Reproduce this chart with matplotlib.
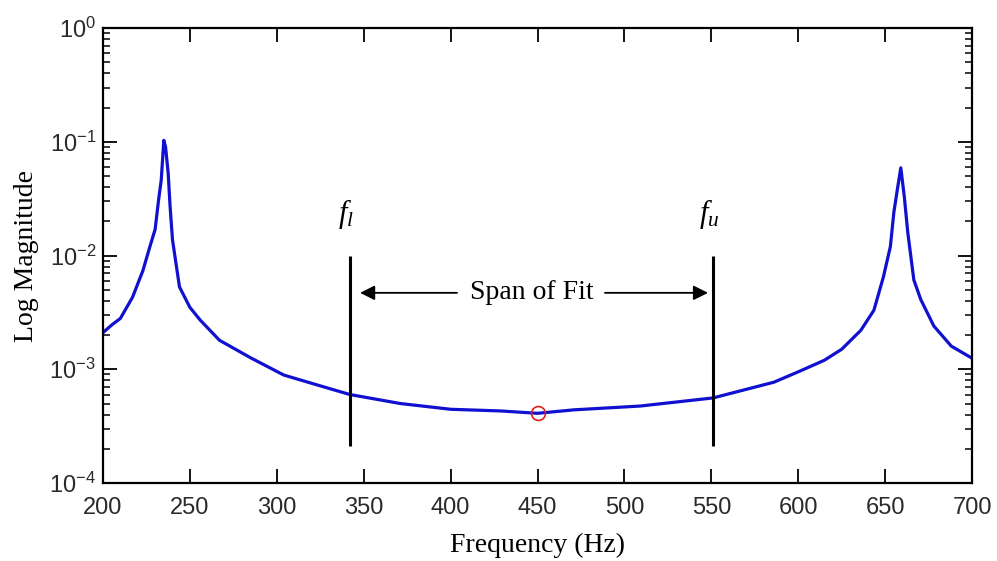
import matplotlib
matplotlib.use('Agg')
import matplotlib.pyplot as plt

# frequency response (Hz, magnitude)
freq = [200, 205, 210, 217, 223, 227, 230, 232, 233.5, 235, 236, 237.5, 238.6,
        240, 244, 250, 256, 267, 285, 304, 323, 342, 371, 400, 429, 450, 471,
        509, 551, 586, 600, 615, 625, 636, 643.5, 649, 653, 655, 657, 659,
        661, 663, 666.5, 670.5, 678, 688, 700]
mag = [2.1e-3, 2.45e-3, 2.8e-3, 4.3e-3, 7.4e-3, 1.2e-2, 1.7e-2, 3.1e-2, 4.6e-2,
       1.03e-1, 9.0e-2, 5.3e-2, 2.7e-2, 1.37e-2, 5.3e-3, 3.5e-3, 2.7e-3, 1.8e-3,
       1.26e-3, 8.9e-4, 7.3e-4, 6.0e-4, 5.0e-4, 4.45e-4, 4.3e-4, 4.1e-4, 4.4e-4,
       4.75e-4, 5.6e-4, 7.7e-4, 9.5e-4, 1.2e-3, 1.5e-3, 2.2e-3, 3.3e-3, 6.5e-3,
       1.2e-2, 2.4e-2, 3.8e-2, 5.9e-2, 3.3e-2, 1.6e-2, 6.1e-3, 4.1e-3, 2.4e-3,
       1.6e-3, 1.25e-3]

f_lower = 342
f_upper = 551
line_bottom = 2.1e-4
line_top = 1e-2
center_freq = 450
center_mag = 4.1e-4
arrow_y = 4.7e-3

plt.rcParams['font.family'] = 'Liberation Sans'
plt.rcParams['mathtext.fontset'] = 'custom'
plt.rcParams['mathtext.rm'] = 'Liberation Sans'
plt.rcParams['mathtext.it'] = 'Liberation Serif:italic'
plt.rcParams['axes.unicode_minus'] = False

serif = {'family': 'Liberation Serif', 'size': 20}

fig = plt.figure(figsize=(9.97, 5.61), dpi=100)
ax = fig.add_axes([0.1033, 0.139, 0.8717, 0.811])

ax.semilogy(freq, mag, color='#1010d0', lw=2.3)
ax.plot(center_freq, center_mag, 'o', mfc='none', mec='#e02020', ms=10, mew=1.2)

ax.vlines([f_lower, f_upper], line_bottom, line_top, color='k', lw=2.2)
ax.text(f_lower - 2, 2.3e-2, r'$f_l$', fontsize=22, ha='center', va='center')
ax.text(f_upper - 2, 2.3e-2, r'$f_u$', fontsize=22, ha='center', va='center')

ax.text(446.5, arrow_y, 'Span of Fit', ha='center', va='center', **serif)
arrow = dict(arrowstyle='-|>', color='k', lw=1.3, mutation_scale=22,
             shrinkA=0, shrinkB=0)
ax.annotate('', xy=(347.9, arrow_y), xytext=(403.7, arrow_y), arrowprops=arrow)
ax.annotate('', xy=(548.1, arrow_y), xytext=(488.8, arrow_y), arrowprops=arrow)

ax.set_xlim(200, 700)
ax.set_ylim(1e-4, 1)
ax.set_xticks(range(200, 701, 50))
ax.set_xlabel('Frequency (Hz)', labelpad=10, **serif)
ax.set_ylabel('Log Magnitude', labelpad=7, **serif)

ax.tick_params(which='both', direction='in', top=True, right=True,
               labelsize=17, labelcolor='#2a2a2a')
ax.tick_params(axis='x', pad=10)
ax.tick_params(axis='y', pad=5)
ax.tick_params(which='major', length=10, width=1.3)
ax.tick_params(which='minor', length=5, width=1.1)
ax.tick_params(axis='x', which='minor', top=False, bottom=False)
for s in ax.spines.values():
    s.set_linewidth(1.6)

plt.savefig('out.png', dpi=100)
